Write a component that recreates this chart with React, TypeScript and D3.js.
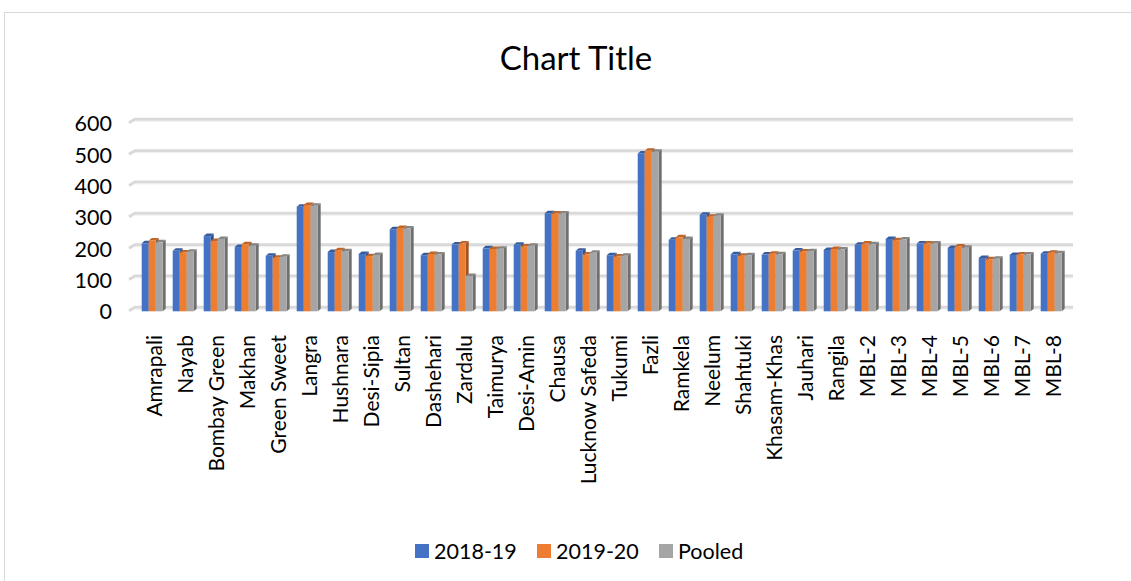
import React from "react";
import * as d3 from "d3";

const categories = [
  "Amrapali", "Nayab", "Bombay Green", "Makhan", "Green Sweet", "Langra",
  "Hushnara", "Desi-Sipia", "Sultan", "Dashehari", "Zardalu", "Taimurya",
  "Desi-Amin", "Chausa", "Lucknow Safeda", "Tukumi", "Fazli", "Ramkela",
  "Neelum", "Shahtuki", "Khasam-Khas", "Jauhari", "Rangila", "MBL-2",
  "MBL-3", "MBL-4", "MBL-5", "MBL-6", "MBL-7", "MBL-8",
];

const values2018 = [
  217, 193, 240, 205, 177, 334, 189, 183, 262, 179, 213, 201, 212, 313, 193,
  179, 504, 228, 308, 182, 181, 194, 196, 212, 231, 216, 202, 170, 180, 184,
];
const values2019 = [
  226, 188, 224, 214, 171, 339, 195, 176, 266, 183, 216, 199, 207, 312, 181,
  175, 512, 236, 302, 177, 184, 191, 199, 216, 227, 216, 207, 166, 181, 187,
];
const valuesPooled = [
  220, 190, 231, 209, 174, 337, 192, 180, 264, 181, 113, 200, 209, 312, 187,
  177, 509, 231, 305, 179, 182, 192, 197, 214, 229, 216, 203, 168, 181, 185,
];

const seriesNames = ["2018-19", "2019-20", "Pooled"];
const seriesValues = [values2018, values2019, valuesPooled];
const seriesColors = ["#4472C4", "#ED7D31", "#A5A5A5"];
const yTicks = [0, 100, 200, 300, 400, 500, 600];

const W = 1131;
const H = 581;
const FONT = "Lato, 'Open Sans', sans-serif";

export default function App() {
  const y = d3.scaleLinear().domain([0, 600]).range([307.3, 119.3]);
  const frontShift = 4; // bars stand in front of the back wall
  const yb = (v: number) => y(v) + frontShift;
  const x = d3
    .scaleBand<string>()
    .domain(categories)
    .range([136.7, 1066.7])
    .paddingInner(0.323)
    .paddingOuter(0.1615);
  const xs = d3
    .scaleBand<string>()
    .domain(seriesNames)
    .range([0, x.bandwidth()]);
  const dx = 3;
  const dy = 2.5;
  const gridLeft = 135;
  const gridRight = 1073;

  return (
    <svg
      width={W}
      height={H}
      style={{ position: "absolute", left: 0, top: 0, background: "#fff" }}
    >
      <rect x={0} y={0} width={W} height={H} fill="#fff" />
      <rect
        x={4.5}
        y={12.5}
        width={1135}
        height={580}
        fill="#fff"
        stroke="#d9d9d9"
        strokeWidth={1}
      />
      <text
        x={576}
        y={57}
        textAnchor="middle"
        dominantBaseline="central"
        fontFamily={FONT}
        fontSize={33}
        fill="#000"
      >
        Chart Title
      </text>

      {/* back-wall gridlines */}
      {yTicks.map((t) => (
        <g key={"g" + t}>
          <path
            d={`M${gridLeft - 6},${y(t) + 3.5} L${gridLeft},${y(t)} L${gridRight},${y(t)}`}
            fill="none"
            stroke="#d9d9d9"
            strokeWidth={3}
          />
          <line
            x1={gridLeft}
            x2={gridRight}
            y1={y(t) + 2}
            y2={y(t) + 2}
            stroke="#f0f0f0"
            strokeWidth={1}
          />
        </g>
      ))}

      {/* y tick labels */}
      {yTicks.map((t) => (
        <text
          key={"yl" + t}
          x={112}
          y={yb(t)}
          textAnchor="end"
          dominantBaseline="central"
          fontFamily={FONT}
          fontSize={21.5}
          fill="#000"
        >
          {t}
        </text>
      ))}

      {/* bars */}
      {categories.map((c, i) => (
        <g key={"c" + c}>
          {seriesNames.map((s, k) => {
            const v = seriesValues[k][i];
            const bx = (x(c) as number) + (xs(s) as number);
            const bw = xs.bandwidth();
            const top = yb(v);
            const bottom = yb(0);
            const base = d3.color(seriesColors[k])!;
            const topC = base.darker(0.6).formatHex();
            const sideC = base.darker(1.1).formatHex();
            return (
              <g key={s}>
                <polygon
                  points={`${bx + bw},${top} ${bx + bw + dx},${top - dy} ${bx + bw + dx},${bottom - dy} ${bx + bw},${bottom}`}
                  fill={sideC}
                />
                <polygon
                  points={`${bx},${top} ${bx + dx},${top - dy} ${bx + bw + dx},${top - dy} ${bx + bw},${top}`}
                  fill={topC}
                />
                <rect
                  x={bx}
                  y={top}
                  width={bw}
                  height={bottom - top}
                  fill={seriesColors[k]}
                />
              </g>
            );
          })}
        </g>
      ))}

      {/* category labels */}
      {categories.map((c) => {
        const cx = (x(c) as number) + x.bandwidth() / 2 + 1.5;
        const ty = 335;
        return (
          <text
            key={"xl" + c}
            transform={`translate(${cx},${ty}) rotate(-90)`}
            textAnchor="end"
            dominantBaseline="central"
            fontFamily={FONT}
            fontSize={21}
            fill="#000"
          >
            {c}
          </text>
        );
      })}

      {/* legend */}
      {seriesNames.map((s, k) => {
        const lx = [415, 537, 659][k];
        return (
          <g key={"lg" + s}>
            <rect x={lx} y={544} width={14} height={14} fill={seriesColors[k]} />
            <text
              x={lx + 19}
              y={551}
              dominantBaseline="central"
              fontFamily={FONT}
              fontSize={21.5}
              fill="#000"
            >
              {s}
            </text>
          </g>
        );
      })}
    </svg>
  );
}
